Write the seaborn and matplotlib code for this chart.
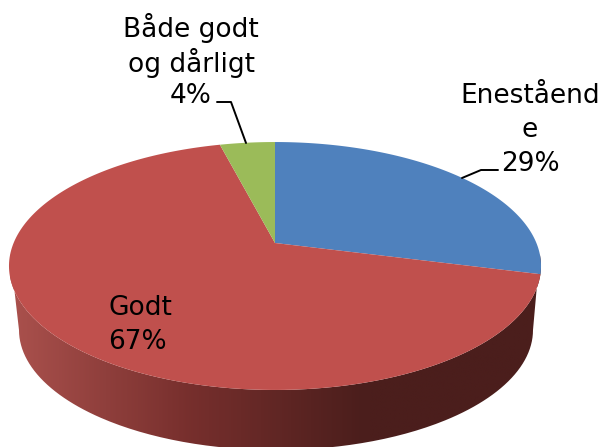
import numpy as np
import matplotlib
matplotlib.use("Agg")
import matplotlib.pyplot as plt
import seaborn as sns
from matplotlib.path import Path
from matplotlib.patches import PathPatch

# orden en sentido horario desde arriba
categorias = ["Enestående", "Godt", "Både godt og dårligt"]
valores = [29, 67, 4]
colores = ["#4F81BD", "#C0504D", "#9BBB59"]
etiquetas = ["Eneståend\ne\n29%", "Godt\n67%", "Både godt\nog dårligt\n4%"]

sns.set_theme(style="white")
plt.rcParams['font.family'] = ['DejaVu Sans']

# perspectiva del disco (pixeles)
CX, CY = 275, 243
A, B, K = 261.4, 119.7, 0.1855
# elipse inferior de la pared lateral
CX_B, CY_B, RX_B, RY_B = 276, 330, 257, 120


def proyectar(theta):
    u = np.sin(theta)
    v = np.cos(theta)
    w = 1 + K * v
    return CX + A * u / w, CY - B * v / w


fig = plt.figure(figsize=(6.03, 4.47), dpi=100)
ax = fig.add_axes([0, 0, 1, 1])

# Pared lateral: degradado recortado con el contorno
paleta = sns.blend_palette(["#A9504C", "#772F2D", "#4B1E1C", "#4B1E1C"], n_colors=48)
pared = ax.imshow(
    np.array(paleta)[np.newaxis, :, :],
    extent=(10, 542, 447, 250), aspect="auto", zorder=1, interpolation="bilinear",
)
ax.set_xlim(0, 603)
ax.set_ylim(447, 0)
ax.axis("off")

ang = np.linspace(0, np.pi, 200)
inf = np.column_stack([CX_B + RX_B * np.cos(ang), CY_B + RY_B * np.sin(ang)])
th_der = np.pi / 2 + 0.09
th_izq = 3 * np.pi / 2 - 0.09
sup = np.column_stack(proyectar(np.linspace(th_izq, th_der, 200)))
verts = np.vstack([np.column_stack(proyectar(np.array([th_der]))), inf, sup])
parche = PathPatch(Path(verts), transform=ax.transData, fc="none", ec="none")
ax.add_patch(parche)
pared.set_clip_path(parche)

# Cara superior
inicio = 0.0
for valor, color in zip(valores, colores):
    frac = valor / sum(valores)
    th = np.linspace(inicio, inicio + frac * 2 * np.pi, 200)
    x, y = proyectar(th)
    ax.fill(np.r_[CX, x], np.r_[CY, y], color=color, lw=0, zorder=2)
    inicio += frac * 2 * np.pi

# Etiquetas
fs = 19
ax.text(530, 130, etiquetas[0], ha="center", va="center", fontsize=fs, color="black", linespacing=1.38, zorder=5)
ax.text(108, 325, etiquetas[1], ha="left", va="center", fontsize=fs, color="black", linespacing=1.38, zorder=5)
ax.text(191, 61, etiquetas[2], ha="center", va="center", fontsize=fs, color="black", linespacing=1.22, zorder=5)

# Lineas guia
ax.plot([462, 481, 498], [178, 170, 170], color="black", lw=1.4, zorder=4)
ax.plot([217, 231, 246], [102, 102, 143], color="black", lw=1.4, zorder=4)

fig.savefig("out.png", dpi=100)
